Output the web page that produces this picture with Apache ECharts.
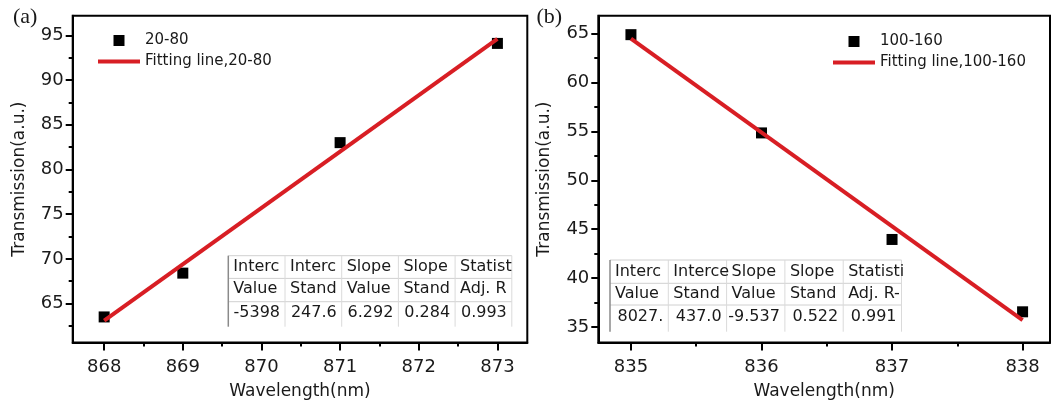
<!DOCTYPE html>
<html><head><meta charset="utf-8">
<script src="https://cdn.jsdelivr.net/npm/echarts@6/dist/echarts.min.js"></script>
<style>html,body{margin:0;padding:0;background:#fff}#c{width:1051px;height:408px}</style>
</head><body><div id="c"></div>
<script>
// ---- data (a) ----
const wavelengthA = [868, 869, 871, 873];
const transmissionA = [63.5, 68.4, 83.0, 94.1];
const fitWavelengthA = [868, 873];
const fitTransmissionA = [63.1, 94.6];
// ---- data (b) ----
const wavelengthB = [835, 836, 837, 838];
const transmissionB = [64.9, 54.85, 43.95, 36.55];
const fitWavelengthB = [835, 838];
const fitTransmissionB = [64.5, 35.7];

// ---- ticks ----
const xTicksA = [868, 869, 870, 871, 872, 873];
const xMinorA = [868.5, 869.5, 870.5, 871.5, 872.5];
const yTicksA = [65, 70, 75, 80, 85, 90, 95];
const yMinorA = [62.5, 67.5, 72.5, 77.5, 82.5, 87.5, 92.5];
const xTicksB = [835, 836, 837, 838];
const xMinorB = [835.5, 836.5, 837.5];
const yTicksB = [35, 40, 45, 50, 55, 60, 65];
const yMinorB = [37.5, 42.5, 47.5, 52.5, 57.5, 62.5];

// ---- legend / series names ----
const seriesNamesA = ['20-80', 'Fitting line,20-80'];
const seriesNamesB = ['100-160', 'Fitting line,100-160'];
const panelLabels = ['(a)', '(b)'];
const xTitle = 'Wavelength(nm)';
const yTitle = 'Transmission(a.u.)';

// ---- fit tables ----
const tableAHead = ['Interc', 'Interc', 'Slope', 'Slope', 'Statist'];
const tableASub = ['Value', 'Stand', 'Value', 'Stand', 'Adj. R'];
const tableAVal = ['-5398', '247.6', '6.292', '0.284', '0.993'];
const tableBHead = ['Interc', 'Interce', 'Slope', 'Slope', 'Statisti'];
const tableBSub = ['Value', 'Stand', 'Value', 'Stand', 'Adj. R-'];
const tableBVal = ['8027.', '437.0', '-9.537', '0.522', '0.991'];

const FONT = 'DejaVu Sans';
const TXT = '#1a1a1a';
const RED = '#d81e24';

function xAxes(g, min, max, ticks, minor) {
  return [{
    type: 'value', gridIndex: g, min: min, max: max, position: 'bottom',
    axisLine: { show: true, onZero: false, lineStyle: { color: '#000', width: 2 } },
    axisTick: { show: true, customValues: ticks, length: 8, lineStyle: { color: '#000', width: 2 } },
    axisLabel: { customValues: ticks, fontSize: 18, fontFamily: FONT, color: TXT, margin: 16 },
    splitLine: { show: false },
    name: xTitle, nameLocation: 'middle', nameGap: 41,
    nameTextStyle: { fontSize: 17, fontFamily: FONT, color: TXT }
  }, {
    type: 'value', gridIndex: g, min: min, max: max, position: 'bottom',
    axisLine: { show: false, onZero: false },
    axisTick: { show: true, customValues: minor, length: 4, lineStyle: { color: '#000', width: 2 } },
    axisLabel: { show: false }, splitLine: { show: false }
  }];
}
function yAxes(g, min, max, ticks, minor) {
  return [{
    type: 'value', gridIndex: g, min: min, max: max, position: 'left',
    axisLine: { show: true, onZero: false, lineStyle: { color: '#000', width: 2 } },
    axisTick: { show: true, customValues: ticks, length: 7, lineStyle: { color: '#000', width: 2 } },
    axisLabel: { customValues: ticks, fontSize: 18, fontFamily: FONT, color: TXT, margin: 9 },
    splitLine: { show: false },
    name: yTitle, nameLocation: 'middle', nameGap: 45,
    nameTextStyle: { fontSize: 17, fontFamily: FONT, color: TXT }
  }, {
    type: 'value', gridIndex: g, min: min, max: max, position: 'left',
    axisLine: { show: false, onZero: false },
    axisTick: { show: true, customValues: minor, length: 4, lineStyle: { color: '#000', width: 2 } },
    axisLabel: { show: false }, splitLine: { show: false }
  }];
}

function tableGraphics(x0, y0, colW, rowLines, centers, head, sub, val) {
  const els = [];
  const nCol = head.length;
  const yBottom = rowLines[rowLines.length - 1];
  for (let i = 0; i < rowLines.length - 1; i++) {
    els.push({ type: 'line', shape: { x1: x0, y1: rowLines[i], x2: x0 + nCol * colW, y2: rowLines[i] },
      style: { stroke: '#d0d0d0', lineWidth: 1 }, z: 10 });
  }
  for (let k = 1; k <= nCol; k++) {
    els.push({ type: 'line', shape: { x1: x0 + k * colW, y1: rowLines[0], x2: x0 + k * colW, y2: yBottom },
      style: { stroke: '#dadada', lineWidth: 1 }, z: 10 });
  }
  els.push({ type: 'line', shape: { x1: x0, y1: rowLines[0], x2: x0, y2: yBottom },
    style: { stroke: '#8a8a8a', lineWidth: 1.5 }, z: 11 });
  const rows = [head, sub];
  rows.forEach((r, ri) => r.forEach((t, ci) => {
    els.push({ type: 'text', x: x0 + ci * colW + 5, y: centers[ri], z: 12,
      style: { text: t, fontSize: 16, fontFamily: FONT, fill: TXT, align: 'left', verticalAlign: 'middle' } });
  }));
  val.forEach((t, ci) => {
    els.push({ type: 'text', x: x0 + (ci + 1) * colW - 5, y: centers[2], z: 12,
      style: { text: t, fontSize: 16, fontFamily: FONT, fill: TXT, align: 'right', verticalAlign: 'middle' } });
  });
  return els;
}

const graphics = [].concat(
  tableGraphics(228.3, 255.7, 56.7, [255.7, 278.4, 301.7, 326.7], [267, 289, 313.3], tableAHead, tableASub, tableAVal),
  tableGraphics(610, 260, 58.3, [260, 283.3, 305, 331.7], [271.7, 294, 316.7], tableBHead, tableBSub, tableBVal),
  [
    { type: 'text', x: 13, y: 17.5, style: { text: panelLabels[0], fontSize: 22, fontFamily: 'Liberation Serif', fill: TXT, align: 'left', verticalAlign: 'middle' } },
    { type: 'text', x: 536.5, y: 17.5, style: { text: panelLabels[1], fontSize: 22, fontFamily: 'Liberation Serif', fill: TXT, align: 'left', verticalAlign: 'middle' } }
  ]
);

const SQ = 'path://M0,0L10,0L10,10L0,10Z';
const BAR = 'path://M0,0L42,0L42,4L0,4Z';
function legend(left, top, names) {
  return {
    orient: 'vertical', left: left, top: top, itemWidth: 42, itemHeight: 11, itemGap: 6,
    selectedMode: false, padding: 0,
    data: [{ name: names[0], icon: SQ, itemStyle: { color: '#000', opacity: 1 } }, { name: names[1], icon: BAR }],
    textStyle: { fontSize: 15, fontFamily: FONT, color: TXT, lineHeight: 15 }
  };
}

function pairs(xs, ys) { return xs.map((x, i) => [x, ys[i]]); }

const chart = echarts.init(document.getElementById('c'), null, { renderer: 'canvas' });
chart.setOption({
  animation: false,
  backgroundColor: '#fff',
  grid: [
    { left: 72.7, top: 15.7, width: 454.6, height: 326.8, show: true, borderColor: '#000', borderWidth: 2, backgroundColor: 'transparent' },
    { left: 598.3, top: 15.7, width: 451.7, height: 326.8, show: true, borderColor: '#000', borderWidth: 2, backgroundColor: 'transparent' }
  ],
  xAxis: [].concat(xAxes(0, 867.6, 873.38, xTicksA, xMinorA), xAxes(1, 834.75, 838.21, xTicksB, xMinorB)),
  yAxis: [].concat(yAxes(0, 60.64, 97.2, yTicksA, yMinorA), yAxes(1, 33.41, 66.84, yTicksB, yMinorB)),
  legend: [legend(98, 33, seriesNamesA), legend(833, 34, seriesNamesB)],
  graphic: graphics,
  series: [
    { name: seriesNamesA[0], type: 'scatter', xAxisIndex: 0, yAxisIndex: 0, symbol: 'rect', symbolSize: 11,
      itemStyle: { color: '#000', opacity: 1 }, data: pairs(wavelengthA, transmissionA), z: 2 },
    { name: seriesNamesA[1], type: 'line', xAxisIndex: 0, yAxisIndex: 0, symbol: 'none',
      itemStyle: { color: RED }, lineStyle: { color: RED, width: 4 }, data: pairs(fitWavelengthA, fitTransmissionA), z: 3 },
    { name: seriesNamesB[0], type: 'scatter', xAxisIndex: 2, yAxisIndex: 2, symbol: 'rect', symbolSize: 11,
      itemStyle: { color: '#000', opacity: 1 }, data: pairs(wavelengthB, transmissionB), z: 2 },
    { name: seriesNamesB[1], type: 'line', xAxisIndex: 2, yAxisIndex: 2, symbol: 'none',
      itemStyle: { color: RED }, lineStyle: { color: RED, width: 4 }, data: pairs(fitWavelengthB, fitTransmissionB), z: 3 }
  ]
});
</script>
</body></html>
